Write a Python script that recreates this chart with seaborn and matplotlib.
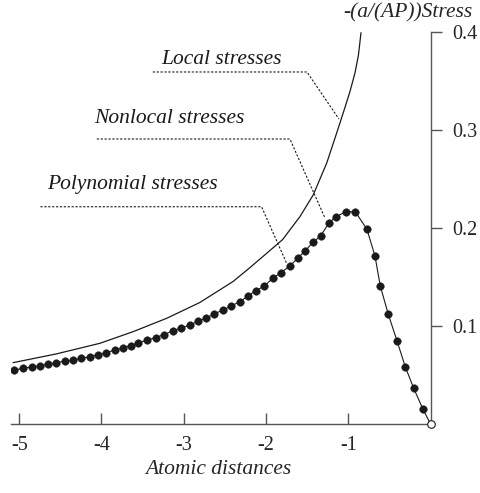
import matplotlib
matplotlib.use("Agg")
import matplotlib.pyplot as plt
import seaborn as sns
import pandas as pd

# ---- data ----
local_x = [-5.075, -4.55, -4.021, -3.616, -3.209, -2.804, -2.399, -2.196, -1.993, -1.80,
           -1.588, -1.426, -1.263, -1.162, -1.101, -1.040, -0.979, -0.918, -0.876, -0.845]
local_y = [0.0626, 0.0715, 0.0823, 0.0942, 0.1078, 0.1240, 0.1455, 0.1595, 0.1741, 0.1880,
           0.2115, 0.2337, 0.2660, 0.2915, 0.3071, 0.3230, 0.3393, 0.3582, 0.3765, 0.3993]

nl_x = [-5.058, -4.954, -4.848, -4.742, -4.645, -4.547, -4.446, -4.345, -4.243, -4.142,
        -4.041, -3.939, -3.838, -3.737, -3.641, -3.550, -3.445, -3.343, -3.242, -3.136,
        -3.032, -2.926, -2.825, -2.731, -2.634, -2.521, -2.423, -2.318, -2.224, -2.123,
        -2.019, -1.920, -1.819, -1.706, -1.616, -1.523, -1.429, -1.336, -1.238, -1.153,
        -1.024, -0.915, -0.773, -0.675, -0.611, -0.513, -0.408, -0.307, -0.204, -0.091]
nl_y = [0.0551, 0.0568, 0.0582, 0.0595, 0.0609, 0.0626, 0.0640, 0.0653, 0.0670, 0.0687,
        0.0707, 0.0728, 0.0755, 0.0776, 0.0801, 0.0827, 0.0857, 0.0881, 0.0911, 0.0949,
        0.0977, 0.1010, 0.1048, 0.1079, 0.1122, 0.1163, 0.1204, 0.1248, 0.1303, 0.1362,
        0.1408, 0.1487, 0.1544, 0.1615, 0.1691, 0.1768, 0.1854, 0.1918, 0.2048, 0.2115,
        0.2166, 0.2166, 0.1988, 0.1714, 0.1411, 0.1119, 0.0850, 0.0585, 0.0364, 0.0150]
end_x = [0.0]
end_y = [0.0]

x_ticks = [-5, -4, -3, -2, -1]
x_tick_labels = ["-5", "-4", "-3", "-2", "-1"]
y_ticks = [0.1, 0.2, 0.3, 0.4]
y_tick_labels = ["0.1", "0.2", "0.3", "0.4"]

labels = ["Local stresses", "Nonlocal stresses", "Polynomial stresses"]
label_pos = [(-2.537, 0.3724), (-3.181, 0.3122), (-3.623, 0.2439)]
leader_start = [-3.376, -4.057, -4.742]
leader_knee = [(-1.502, 0.3592), (-1.709, 0.2908), (-2.054, 0.2217)]
leader_end = [(-1.113, 0.3112), (-1.283, 0.2102), (-1.749, 0.1640)]

# ---- styling ----
sns.set_theme(style="white")
plt.rcParams["font.family"] = ["Liberation Serif", "DejaVu Serif"]

fig = plt.figure(figsize=(4.8, 4.93), dpi=100)
ax = fig.add_axes([11 / 480, 69 / 493, (430.5 - 11) / 480, (424 - 32) / 493])

ink = "#1a1a1a"
axis_col = "#555555"

df_local = pd.DataFrame({"x": local_x, "y": local_y})
df_nl = pd.DataFrame({"x": nl_x + end_x, "y": nl_y + end_y})
df_dots = pd.DataFrame({"x": nl_x, "y": nl_y})
df_end = pd.DataFrame({"x": end_x, "y": end_y})

sns.lineplot(data=df_local, x="x", y="y", sort=False, ax=ax, color=ink, lw=0.9)
sns.lineplot(data=df_nl, x="x", y="y", sort=False, ax=ax, color=ink, lw=0.8)
sns.scatterplot(data=df_dots, x="x", y="y", ax=ax, color=ink, s=30, edgecolor=ink,
                linewidth=0.3, zorder=3)
sns.scatterplot(data=df_end, x="x", y="y", ax=ax, color="white", s=30, edgecolor=ink,
                linewidth=0.8, zorder=4, clip_on=False)

ax.set_xlim(-5.10, 0.0)
ax.set_ylim(0.0, 0.4)

for s in ["top", "left"]:
    ax.spines[s].set_visible(False)
for s in ["bottom", "right"]:
    ax.spines[s].set_color(axis_col)
    ax.spines[s].set_linewidth(1.0)

ax.yaxis.tick_right()
ax.set_xticks(x_ticks)
ax.set_xticklabels(x_tick_labels)
ax.set_yticks(y_ticks)
ax.set_yticklabels(y_tick_labels)
ax.tick_params(axis="x", direction="in", length=8, width=1.0, color=axis_col,
               labelsize=14.5, pad=9, bottom=True)
ax.tick_params(axis="y", direction="out", length=8, width=1.0, color=axis_col,
               labelsize=14.5, pad=8, right=True, left=False)
ax.set_xlabel("")
ax.set_ylabel("")

# axis titles
fig.text(472 / 480, 1 - 13 / 493, "-(a/(AP))Stress", ha="right", va="center",
         fontsize=15.5, style="italic")
fig.text(218.5 / 480, 1 - 470 / 493, "Atomic distances", ha="center", va="center",
         fontsize=15.5, style="italic")

# labels with dotted leader lines
for lab, (tx, ty), x0, (kx, ky), (ex, ey) in zip(labels, label_pos, leader_start,
                                                 leader_knee, leader_end):
    ax.text(tx, ty, lab, ha="center", va="center", fontsize=15.5, style="italic", color=ink)
    ax.plot([x0, kx, ex], [ky, ky, ey], color=ink, lw=0.8, ls=(0, (2, 1.5)))

fig.savefig("out.png", dpi=100)
